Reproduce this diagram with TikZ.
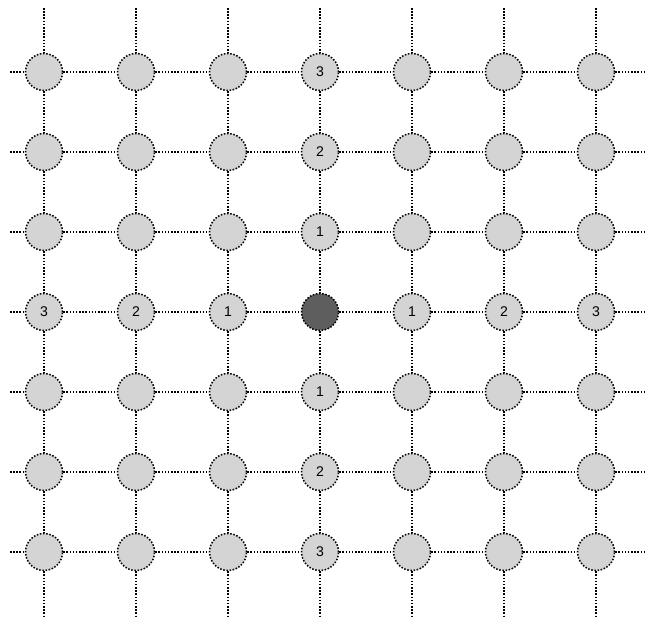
\documentclass[tikz,border=0pt]{standalone}
\usepackage{fontspec}
\setmainfont{Liberation Sans}
\definecolor{sitegray}{HTML}{D4D4D4}
\definecolor{centergray}{HTML}{5E5E5E}
\tikzset{
  site/.style={circle,draw=black,fill=sitegray,minimum size=1.11cm,inner sep=0pt,
    line width=1.3pt,dash pattern=on 1.3pt off 1.4pt,font=\fontsize{12}{14}\selectfont},
  link/.style={line width=1.3pt,dash pattern=on 1.3pt off 1.4pt}
}
\begin{document}
\begin{tikzpicture}[x=0.03cm,y=-0.03cm]
\useasboundingbox (0,0) rectangle (647,617);

% sites
\foreach \c in {1,...,7}{
  \foreach \r in {1,...,7}{
    \pgfmathtruncatemacro\dist{abs(\c-4)+abs(\r-4)}
    \pgfmathtruncatemacro\axis{(\c-4)*(\r-4)}
    \ifnum\dist=0
      \node[site,fill=centergray] (s-\c-\r) at ({44+92*(\c-1)},{72+80*(\r-1)}) {};
    \else\ifnum\axis=0
      \node[site] (s-\c-\r) at ({44+92*(\c-1)},{72+80*(\r-1)}) {\dist};
    \else
      \node[site] (s-\c-\r) at ({44+92*(\c-1)},{72+80*(\r-1)}) {};
    \fi\fi
  }
}

% free ends
\foreach \i in {1,...,7}{
  \coordinate (top-\i) at ({44+92*(\i-1)},8);
  \coordinate (bot-\i) at ({44+92*(\i-1)},617);
  \coordinate (left-\i) at (10,{72+80*(\i-1)});
  \coordinate (right-\i) at (645,{72+80*(\i-1)});
}

% links
\foreach \i in {1,...,7}{
  \draw[link] (top-\i) -- (s-\i-1);
  \draw[link] (s-\i-7) -- (bot-\i);
  \draw[link] (left-\i) -- (s-1-\i);
  \draw[link] (s-7-\i) -- (right-\i);
  \foreach \j [evaluate=\j as \k using int(\j+1)] in {1,...,6}{
    \draw[link] (s-\i-\j) -- (s-\i-\k);
    \draw[link] (s-\j-\i) -- (s-\k-\i);
  }
}

\end{tikzpicture}
\end{document}
